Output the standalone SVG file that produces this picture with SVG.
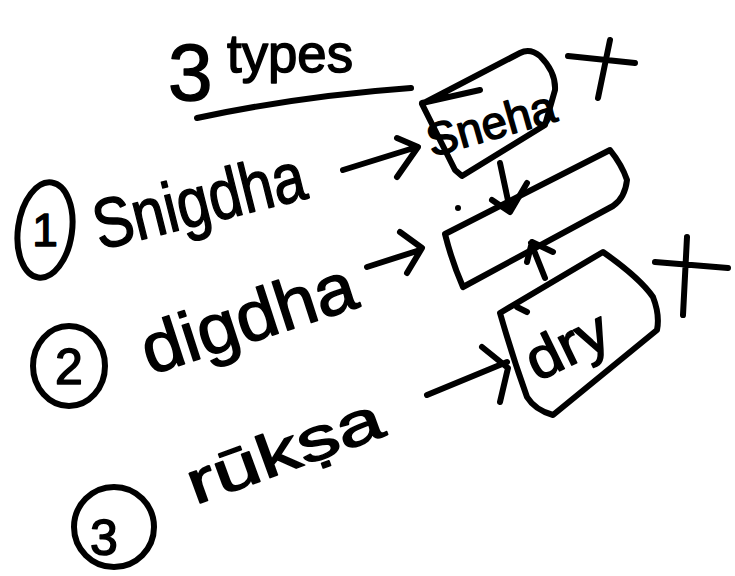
<svg xmlns="http://www.w3.org/2000/svg" width="735" height="576" viewBox="0 0 735 576">
<style>
.ink{fill:none;stroke:#000;stroke-width:6;stroke-linecap:round;stroke-linejoin:round}
.hw{font-family:"Liberation Sans","DejaVu Sans",sans-serif;fill:#000;stroke:#000;stroke-width:1.5;stroke-linejoin:round}
</style>
<rect width="735" height="576" fill="#fff"/>

<g id="title">
  <text class="hw" x="168" y="100" font-size="80">3<tspan x="227" y="72" font-size="54" textLength="126" lengthAdjust="spacingAndGlyphs">types</tspan></text>
  <path class="ink" d="M197 118 Q300 96 411 88" stroke-width="8"/>
</g>

<g id="item1">
  <ellipse class="ink" cx="45" cy="230" rx="27" ry="48" transform="rotate(8 45 230)"/>
  <text class="hw" x="45" y="246" font-size="46" text-anchor="middle">1</text>
  <text class="hw" x="100" y="250" font-size="70" textLength="216" lengthAdjust="spacingAndGlyphs" transform="rotate(-14 100 250)">Snigdha</text>
</g>

<g id="item2">
  <ellipse class="ink" cx="69" cy="366" rx="36" ry="40"/>
  <text class="hw" x="69" y="384" font-size="50" text-anchor="middle">2</text>
  <text class="hw" x="150" y="375" font-size="70" textLength="222" lengthAdjust="spacingAndGlyphs" transform="rotate(-18 150 375)">digdha</text>
</g>

<g id="item3">
  <ellipse class="ink" cx="114" cy="527" rx="40" ry="40"/>
  <text class="hw" x="104" y="555" font-size="50" text-anchor="middle">3</text>
  <text class="hw" x="195" y="505" font-size="60" textLength="205" lengthAdjust="spacingAndGlyphs" transform="rotate(-20 195 505)">rūkṣa</text>
</g>

<g id="sneha">
  <path class="ink" d="M422 104 L520 53 Q530 48 540 56 Q556 72 555 90 L545 125 L462 176 L455 170 Q440 140 422 104 Z M480 90 L422 103"/>
  <text class="hw" x="432" y="157" font-size="46" textLength="132" lengthAdjust="spacingAndGlyphs" transform="rotate(-16 432 157)">Sneha</text>
  <path class="ink" d="M610 40 L598 98 M568 56 L635 63"/>
</g>

<g id="middle">
  <path class="ink" d="M445 234 L610 150 Q622 165 627 180 Q625 198 613 206 L463 287 Q452 262 445 234 Z"/>
  <circle cx="458" cy="208" r="3" fill="#000"/>
</g>

<g id="dry">
  <path class="ink" d="M500 313 L603 252 Q640 278 653 297 Q660 315 657 330 L553 415 Q535 410 527 397 Q512 355 500 313 Z M517 307 L527 312"/>
  <text class="hw" x="537" y="382" font-size="58" textLength="86" lengthAdjust="spacingAndGlyphs" transform="rotate(-26 537 382)">dry</text>
  <path class="ink" d="M687 237 L683 315 M655 262 L728 268"/>
</g>

<g id="connectors">
  <path class="ink" d="M343 170 L417 147 M397 138 L418 147 L397 177"/>
  <path class="ink" d="M367 267 L420 250 M400 232 L422 248 L407 273"/>
  <path class="ink" d="M427 395 L507 362 M482 347 L508 368 L500 402"/>
  <path class="ink" d="M500 163 L510 210 M492 200 L510 212 L527 183"/>
  <path class="ink" d="M545 278 L531 243 M527 262 L532 242 L553 252"/>
</g>
</svg>
